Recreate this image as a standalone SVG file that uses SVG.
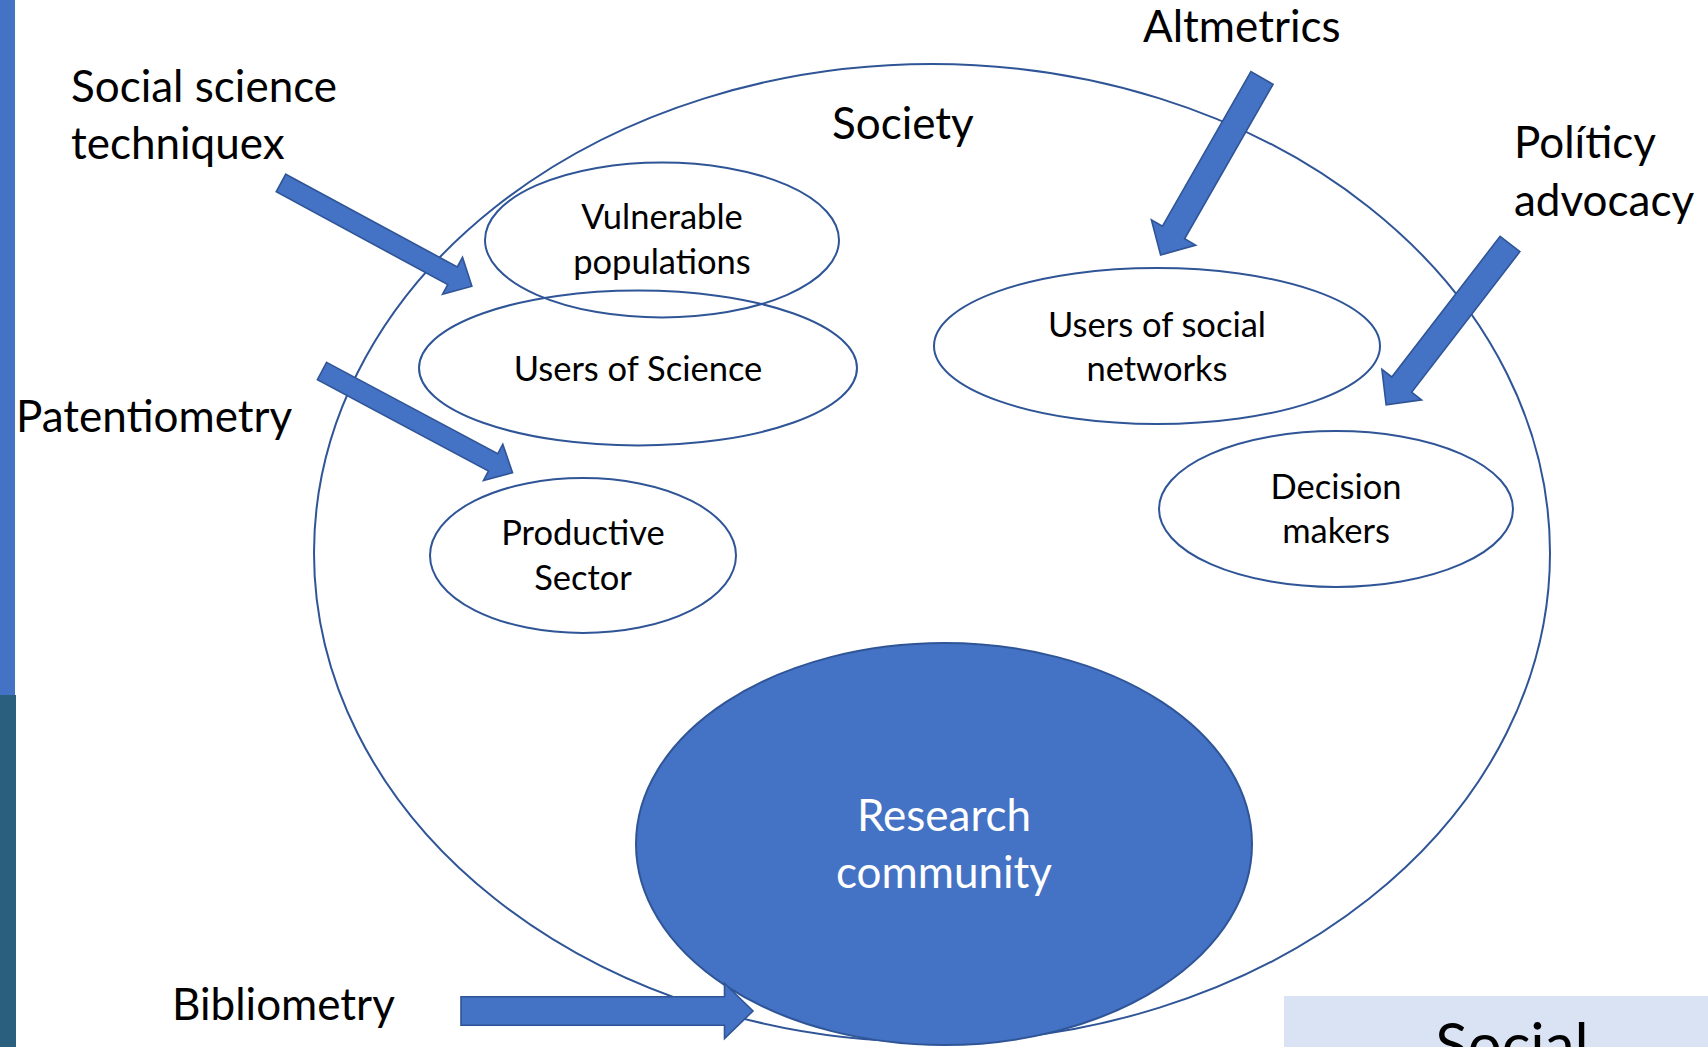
<svg xmlns="http://www.w3.org/2000/svg" width="1708" height="1047" viewBox="0 0 1708 1047">
  <style>
    .ell { fill: none; stroke: #2F5597; stroke-width: 2; }
    .lbl { font-family: Lato, "Noto Sans", sans-serif; fill: #000000; }
    .big { font-size: 44px; }
    .sm { font-size: 34.5px; text-anchor: middle; }
    .arrow { fill: #4472C4; stroke: #2F5597; stroke-width: 1.6; stroke-linejoin: miter; }
  </style>
  <rect x="0" y="0" width="1708" height="1047" fill="#FFFFFF"/>
  <rect x="0" y="0" width="15" height="695" fill="#4472C4"/>
  <rect x="0" y="695" width="16" height="352" fill="#2A5F7E"/>

  <g id="society">
    <ellipse class="ell" cx="932" cy="553" rx="618" ry="489"/>
    <text class="lbl big" x="832" y="139">Society</text>
  </g>
  <g id="vulnerable-populations">
    <ellipse class="ell" cx="662" cy="240" rx="177" ry="77.5"/>
    <text class="lbl sm" x="662" y="229">Vulnerable</text>
    <text class="lbl sm" x="662" y="274">populations</text>
  </g>
  <g id="users-of-science">
    <ellipse class="ell" cx="638" cy="368" rx="219" ry="77.5"/>
    <text class="lbl sm" x="638" y="381">Users of Science</text>
  </g>
  <g id="users-of-social-networks">
    <ellipse class="ell" cx="1157" cy="346" rx="223" ry="78"/>
    <text class="lbl sm" x="1157" y="336.5">Users of social</text>
    <text class="lbl sm" x="1157" y="380.5">networks</text>
  </g>
  <g id="decision-makers">
    <ellipse class="ell" cx="1336" cy="509" rx="177" ry="78"/>
    <text class="lbl sm" x="1336" y="499">Decision</text>
    <text class="lbl sm" x="1336" y="543">makers</text>
  </g>
  <g id="productive-sector">
    <ellipse class="ell" cx="583" cy="555.5" rx="153" ry="77.5"/>
    <text class="lbl sm" x="583" y="545">Productive</text>
    <text class="lbl sm" x="583" y="590">Sector</text>
  </g>
  <g id="research-community">
    <ellipse cx="944" cy="844" rx="308" ry="201" fill="#4472C4" stroke="#2F5597" stroke-width="2"/>
    <text class="lbl big" x="944" y="831" text-anchor="middle" style="fill:#FFFFFF">Research</text>
    <text class="lbl big" x="944" y="888" text-anchor="middle" style="fill:#FFFFFF">community</text>
  </g>

  <g id="label-social-science">
    <text class="lbl big" x="71" y="102">Social science</text>
    <text class="lbl big" x="71" y="159">techniquex</text>
  </g>
  <g id="label-patentiometry">
    <text class="lbl big" x="16" y="432">Patentiometry</text>
  </g>
  <g id="label-altmetrics">
    <text class="lbl big" x="1143" y="42">Altmetrics</text>
  </g>
  <g id="label-policy">
    <text class="lbl big" x="1514" y="158">Políticy</text>
    <text class="lbl big" x="1514" y="216">advocacy</text>
  </g>
  <g id="label-bibliometry">
    <text class="lbl big" x="172" y="1020">Bibliometry</text>
  </g>
  <g id="social-box">
    <rect x="1284" y="996" width="424" height="51" fill="#DAE3F3"/>
    <text class="lbl" x="1512" y="1066" text-anchor="middle" font-size="60">Social</text>
  </g>

  <g id="connectors">
    <polygon class="arrow" transform="translate(281,183) rotate(28.4)" points="0,-10 195,-10 195,-21 217,0 195,21 195,10 0,10"/>
    <polygon class="arrow" transform="translate(322,371) rotate(28.1)" points="0,-9.75 194,-9.75 194,-20.5 216,0 194,20.5 194,9.75 0,9.75"/>
    <polygon class="arrow" transform="translate(1262,78) rotate(119.8)" points="0,-12.75 178,-12.75 178,-25.5 204,0 178,25.5 178,12.75 0,12.75"/>
    <polygon class="arrow" transform="translate(1510,244) rotate(127.6)" points="0,-12.5 177.5,-12.5 177.5,-25 203,0 177.5,25 177.5,12.5 0,12.5"/>
    <polygon class="arrow" transform="translate(461,1011)" points="0,-14.25 263.5,-14.25 263.5,-27.5 292,0 263.5,27.5 263.5,14.25 0,14.25"/>
  </g>
</svg>
